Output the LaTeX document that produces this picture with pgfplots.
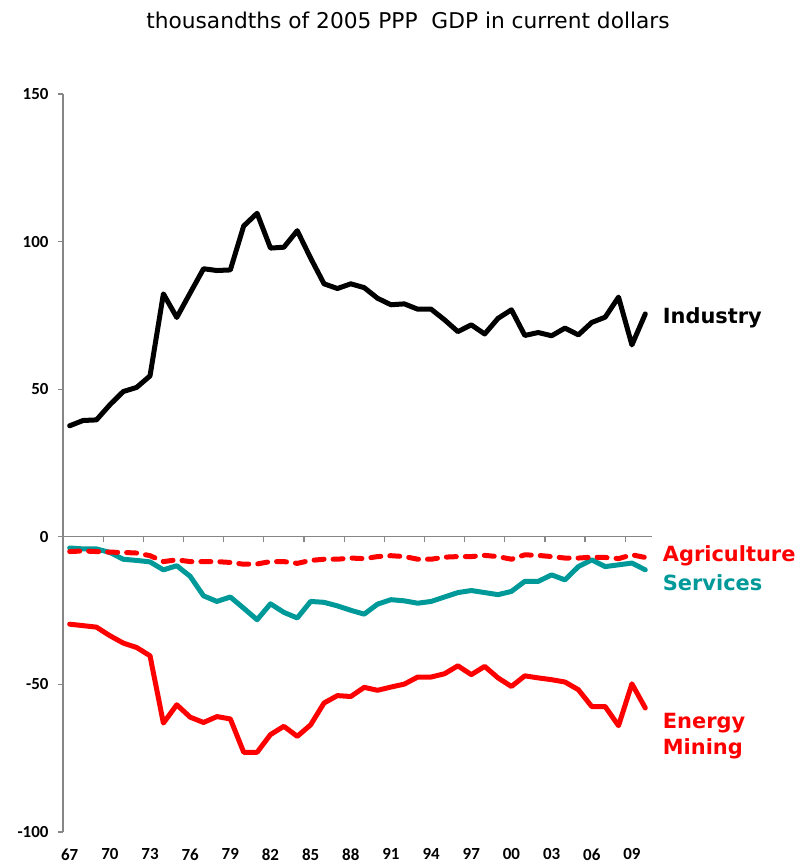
\documentclass[border=0pt]{standalone}
\usepackage{fontspec}
\setmainfont{DejaVu Sans}
\newfontfamily\carlito{Carlito}
\usepackage{pgfplots}
\usepackage{pgfplotstable}
\pgfplotsset{compat=1.18}
\definecolor{tealc}{RGB}{0,153,153}
\definecolor{axgray}{RGB}{134,134,134}
\definecolor{redc}{RGB}{255,0,0}

\pgfplotstableread{
year val
1967 37.6
1968 39.4
1969 39.6
1970 44.7
1971 49.2
1972 50.6
1973 54.5
1974 82.3
1975 74.3
1976 82.6
1977 90.8
1978 90.2
1979 90.4
1980 105.3
1981 109.6
1982 97.8
1983 98.1
1984 103.7
1985 94.4
1986 85.7
1987 84.1
1988 85.7
1989 84.4
1990 80.8
1991 78.6
1992 78.9
1993 77.1
1994 77.1
1995 73.5
1996 69.5
1997 71.8
1998 68.7
1999 74.0
2000 76.9
2001 68.2
2002 69.2
2003 68.1
2004 70.7
2005 68.4
2006 72.6
2007 74.4
2008 81.2
2009 65.0
2010 75.5
}\industry

\pgfplotstableread{
year val
1967 -3.8
1968 -4.1
1969 -4.1
1970 -5.3
1971 -7.6
1972 -8.0
1973 -8.5
1974 -11.2
1975 -9.8
1976 -13.4
1977 -20.0
1978 -21.9
1979 -20.4
1980 -24.2
1981 -28.1
1982 -22.7
1983 -25.6
1984 -27.5
1985 -21.9
1986 -22.2
1987 -23.4
1988 -24.9
1989 -26.2
1990 -22.8
1991 -21.3
1992 -21.7
1993 -22.5
1994 -21.9
1995 -20.4
1996 -18.9
1997 -18.2
1998 -18.9
1999 -19.6
2000 -18.5
2001 -15.1
2002 -15.1
2003 -12.9
2004 -14.6
2005 -10.1
2006 -7.8
2007 -10.1
2008 -9.5
2009 -8.9
2010 -11.2
}\services

\pgfplotstableread{
year val
1967 -5.0
1968 -4.8
1969 -5.0
1970 -5.2
1971 -5.3
1972 -5.5
1973 -6.4
1974 -8.4
1975 -7.8
1976 -8.4
1977 -8.4
1978 -8.4
1979 -8.7
1980 -9.3
1981 -9.2
1982 -8.4
1983 -8.4
1984 -9.0
1985 -8.0
1986 -7.6
1987 -7.6
1988 -7.2
1989 -7.4
1990 -6.7
1991 -6.4
1992 -6.7
1993 -7.6
1994 -7.6
1995 -6.9
1996 -6.7
1997 -6.7
1998 -6.3
1999 -6.7
2000 -7.6
2001 -6.1
2002 -6.3
2003 -6.7
2004 -7.2
2005 -7.2
2006 -6.9
2007 -7.0
2008 -7.4
2009 -6.1
2010 -7.0
}\agriculture

\pgfplotstableread{
year val
1967 -29.6
1968 -30.1
1969 -30.6
1970 -33.5
1971 -36.0
1972 -37.5
1973 -40.3
1974 -63.1
1975 -56.9
1976 -61.1
1977 -62.9
1978 -60.9
1979 -61.7
1980 -73.0
1981 -73.0
1982 -67.0
1983 -64.2
1984 -67.6
1985 -63.7
1986 -56.3
1987 -53.8
1988 -54.1
1989 -51.0
1990 -52.0
1991 -50.9
1992 -49.9
1993 -47.5
1994 -47.5
1995 -46.4
1996 -43.7
1997 -46.7
1998 -43.9
1999 -47.8
2000 -50.7
2001 -47.1
2002 -47.8
2003 -48.4
2004 -49.2
2005 -51.8
2006 -57.5
2007 -57.5
2008 -64.0
2009 -49.8
2010 -58.0
}\energy

\begin{document}
\begin{tikzpicture}
\path[use as bounding box] (-63bp,-32bp) rectangle (733bp,832bp);
\begin{axis}[
  at={(0,0)}, anchor=south west,
  scale only axis, width=589bp, height=738bp,
  xmin=-0.5, xmax=43.5, ymin=-100, ymax=150,
  clip=false,
  axis x line=bottom, axis y line=left,
  axis line style={-, axgray, line width=1.2bp},
  x axis line style={draw=none},
  xtick={0,3,...,42},
  xticklabels={67,70,73,76,79,82,85,88,91,94,97,00,03,06,09},
  xtick style={draw=none},
  ytick={-100,-50,0,50,100,150},
  yticklabels={-100,-50,0,50,100,150},
  ytick style={axgray, line width=1.2bp},
  tick align=outside, major tick length=5bp,
  ticklabel style={font=\carlito\bfseries\fontsize{17}{17}\selectfont},
  xticklabel style={yshift=-8bp},
  yticklabel style={xshift=-6bp},
]
\draw[axgray, line width=1.2bp] (axis cs:-0.5,0) -- (axis cs:43.5,0);
\pgfplotsinvokeforeach{2.5,5.5,8.5,11.5,14.5,17.5,20.5,23.5,26.5,29.5,32.5,35.5,38.5,41.5}{
  \draw[axgray, line width=1.2bp] (axis cs:#1,0) -- ([yshift=-5bp]axis cs:#1,0);
}
\addplot[black, line width=5bp, line join=round, line cap=round] table[x expr=\thisrow{year}-1967,y=val] {\industry};
\addplot[tealc, line width=5bp, line join=round, line cap=round] table[x expr=\thisrow{year}-1967,y=val] {\services};
\addplot[redc, line width=5bp, line join=round, line cap=round, dash pattern=on 10bp off 9bp] table[x expr=\thisrow{year}-1967,y=val] {\agriculture};
\addplot[redc, line width=5bp, line join=round, line cap=round] table[x expr=\thisrow{year}-1967,y=val] {\energy};
\node[anchor=west, font=\bfseries\fontsize{21}{21}\selectfont, text=black, inner sep=0pt] at (axis cs:44.3,74.2) {Industry};
\node[anchor=west, font=\bfseries\fontsize{21}{21}\selectfont, text=redc, inner sep=0pt] at (axis cs:44.3,-6.4) {Agriculture};
\node[anchor=west, font=\bfseries\fontsize{21}{21}\selectfont, text=tealc, inner sep=0pt] at (axis cs:44.3,-15.5) {Services};
\node[anchor=west, font=\bfseries\fontsize{21}{21}\selectfont, text=redc, inner sep=0pt] at (axis cs:44.3,-63.2) {Energy};
\node[anchor=west, font=\bfseries\fontsize{21}{21}\selectfont, text=redc, inner sep=0pt] at (axis cs:44.3,-71.7) {Mining};
\end{axis}
\node[font=\fontsize{21.8}{21.8}\selectfont, inner sep=0pt] at (345bp,812bp) {thousandths of 2005 PPP\ \ GDP in current dollars};
\end{tikzpicture}
\end{document}
